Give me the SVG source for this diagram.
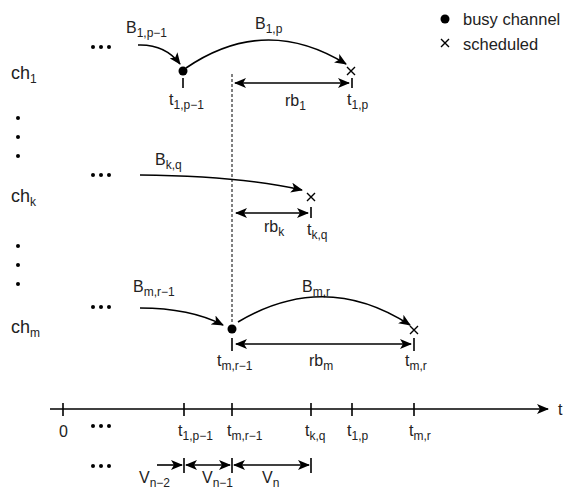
<svg xmlns="http://www.w3.org/2000/svg" width="568" height="491" viewBox="0 0 568 491">
<defs>
<marker id="ah" viewBox="0 0 12 10" refX="11" refY="5" markerWidth="12" markerHeight="10" markerUnits="userSpaceOnUse" orient="auto-start-reverse">
<path d="M0,0 L12,5 L0,10 L3,5 z" fill="#000"/>
</marker>
<style>
text{font-family:"Liberation Sans",Arial,sans-serif;font-size:16px;fill:#222}
.s{font-size:12px}
.ch{font-size:18px}
.lg{font-size:16.5px}
.ln{stroke:#000;stroke-width:1.6;fill:none}
.tk{stroke:#000;stroke-width:1.6}
.arr{stroke:#000;stroke-width:1.6;fill:none;marker-end:url(#ah)}
.dbl{stroke:#000;stroke-width:1.6;fill:none;marker-start:url(#ah);marker-end:url(#ah)}
.x{stroke:#000;stroke-width:1.4}
</style>
</defs>
<rect width="568" height="491" fill="#fff"/>

<g id="legend">
<circle cx="445" cy="19" r="4.5" fill="#000"/>
<text class="lg" x="463" y="25">busy channel</text>
<path class="x" d="M441,39 l8,8 M449,39 l-8,8"/>
<text class="lg" x="463" y="50">scheduled</text>
</g>

<g id="channel-labels">
<text class="ch" x="11" y="79">ch<tspan class="s" dy="4">1</tspan></text>
<text class="ch" x="11" y="202">ch<tspan class="s" dy="4">k</tspan></text>
<text class="ch" x="11" y="333">ch<tspan class="s" dy="4">m</tspan></text>
<g fill="#000">
<circle cx="18" cy="118" r="2"/><circle cx="18" cy="137" r="2"/><circle cx="18" cy="156" r="2"/>
<circle cx="18" cy="246" r="2"/><circle cx="18" cy="265" r="2"/><circle cx="18" cy="284" r="2"/>
</g>
</g>

<g id="ellipses" fill="#000">
<circle cx="93" cy="47" r="2"/><circle cx="101" cy="47" r="2"/><circle cx="109" cy="47" r="2"/>
<circle cx="93" cy="175" r="2"/><circle cx="101" cy="175" r="2"/><circle cx="109" cy="175" r="2"/>
<circle cx="93" cy="307" r="2"/><circle cx="101" cy="307" r="2"/><circle cx="109" cy="307" r="2"/>
<circle cx="93" cy="426" r="2"/><circle cx="101" cy="426" r="2"/><circle cx="109" cy="426" r="2"/>
<circle cx="93" cy="466" r="2"/><circle cx="101" cy="466" r="2"/><circle cx="109" cy="466" r="2"/>
</g>

<g id="row-1">
<circle cx="183" cy="71" r="4.5" fill="#000"/>
<line class="tk" x1="183" y1="78" x2="183" y2="88"/>
<text x="169" y="105">t<tspan class="s" dy="4">1,p−1</tspan></text>
<path class="x" d="M347,67 l8,8 M355,67 l-8,8"/>
<line class="tk" x1="352" y1="78" x2="352" y2="88"/>
<text x="347" y="105">t<tspan class="s" dy="4">1,p</tspan></text>
<text x="126" y="33">B<tspan class="s" dy="4">1,p−1</tspan></text>
<text x="255" y="29">B<tspan class="s" dy="4">1,p</tspan></text>
<text x="285" y="106">rb<tspan class="s" dy="4">1</tspan></text>
</g>

<g id="row-k">
<path class="x" d="M307,193 l8,8 M315,193 l-8,8"/>
<line class="tk" x1="311" y1="207" x2="311" y2="218"/>
<text x="307" y="235">t<tspan class="s" dy="4">k,q</tspan></text>
<text x="155" y="165">B<tspan class="s" dy="4">k,q</tspan></text>
<text x="264" y="232">rb<tspan class="s" dy="4">k</tspan></text>
</g>

<g id="row-m">
<circle cx="232" cy="329" r="4.5" fill="#000"/>
<line class="tk" x1="232" y1="338" x2="232" y2="351"/>
<text x="217" y="366">t<tspan class="s" dy="4">m,r−1</tspan></text>
<path class="x" d="M410,326 l8,8 M418,326 l-8,8"/>
<line class="tk" x1="414" y1="338" x2="414" y2="351"/>
<text x="405" y="366">t<tspan class="s" dy="4">m,r</tspan></text>
<text x="133" y="292">B<tspan class="s" dy="4">m,r−1</tspan></text>
<text x="302" y="292">B<tspan class="s" dy="4">m,r</tspan></text>
<text x="309" y="366">rb<tspan class="s" dy="4">m</tspan></text>
</g>

<g id="time-axis">
<line class="ln" x1="50" y1="409" x2="548" y2="409" stroke-width="2" marker-end="url(#ah)"/>
<g class="tk">
<line x1="63" y1="403" x2="63" y2="416"/>
<line x1="184" y1="403" x2="184" y2="416"/>
<line x1="232" y1="403" x2="232" y2="416"/>
<line x1="311" y1="403" x2="311" y2="416"/>
<line x1="352" y1="403" x2="352" y2="416"/>
<line x1="414" y1="403" x2="414" y2="416"/>
</g>
<text x="558" y="415">t</text>
<text x="59" y="437">0</text>
<text x="178" y="436">t<tspan class="s" dy="4">1,p−1</tspan></text>
<text x="227" y="436">t<tspan class="s" dy="4">m,r−1</tspan></text>
<text x="305" y="436">t<tspan class="s" dy="4">k,q</tspan></text>
<text x="347" y="436">t<tspan class="s" dy="4">1,p</tspan></text>
<text x="409" y="436">t<tspan class="s" dy="4">m,r</tspan></text>
</g>

<g id="intervals">
<g class="tk">
<line x1="184" y1="458" x2="184" y2="473"/>
<line x1="232" y1="458" x2="232" y2="473"/>
<line x1="311" y1="458" x2="311" y2="473"/>
</g>
<text x="139" y="483">V<tspan class="s" dy="4">n−2</tspan></text>
<text x="202" y="483">V<tspan class="s" dy="4">n−1</tspan></text>
<text x="262" y="483">V<tspan class="s" dy="4">n</tspan></text>
</g>

<g id="connectors">
<line x1="232" y1="74" x2="232" y2="323" stroke="#000" stroke-width="1" stroke-dasharray="3,2"/>
<path class="arr" d="M138,45 Q165,44 180,64"/>
<path class="arr" d="M186,68 Q265,14 346,64"/>
<line class="dbl" x1="235" y1="83" x2="349" y2="83"/>
<path class="arr" d="M140,175 Q240,176 302,190"/>
<line class="dbl" x1="236" y1="213" x2="308" y2="213"/>
<path class="arr" d="M140,308 Q190,308 223,325"/>
<path class="arr" d="M238,322 Q325,270 410,325"/>
<line class="dbl" x1="236" y1="344" x2="411" y2="344"/>
<line class="arr" x1="157" y1="465" x2="182" y2="465"/>
<line class="dbl" x1="186" y1="465" x2="230" y2="465"/>
<line class="dbl" x1="234" y1="465" x2="309" y2="465"/>
</g>
</svg>
